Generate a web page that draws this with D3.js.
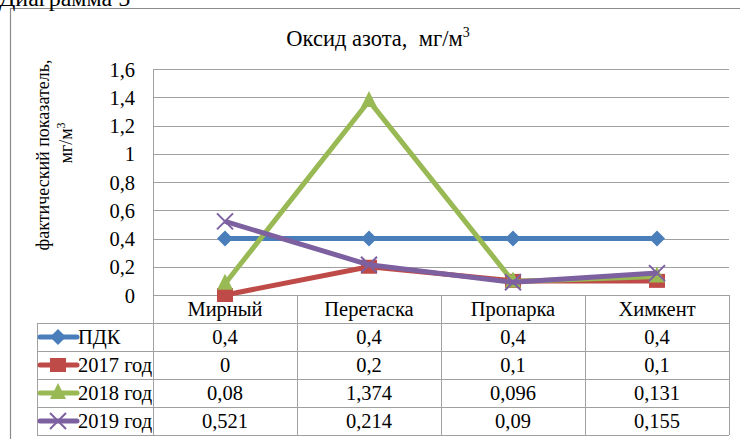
<!DOCTYPE html>
<html><head><meta charset="utf-8">
<script src="https://cdn.jsdelivr.net/npm/d3@7"></script>
<style>body{margin:0;background:#fff}svg{display:block}</style>
</head><body>
<svg id="c" width="740" height="439"></svg>
<script>
const categories = ["Мирный","Перетаска","Пропарка","Химкент"];
const seriesNames = ["ПДК","2017 год","2018 год","2019 год"];
const pdk = [0.4,0.4,0.4,0.4];
const y2017 = [0,0.2,0.1,0.1];
const y2018 = [0.08,1.374,0.096,0.131];
const y2019 = [0.521,0.214,0.09,0.155];
const tableLabels = [
  ["0,4","0,4","0,4","0,4"],
  ["0","0,2","0,1","0,1"],
  ["0,08","1,374","0,096","0,131"],
  ["0,521","0,214","0,09","0,155"]
];
const yTicks = [0,0.2,0.4,0.6,0.8,1,1.2,1.4,1.6];
const colors = ["#4A7EBB","#BE4B48","#98B954","#7D60A0"];
const markers = ["diamond","square","triangle","x"];
const series = [pdk,y2017,y2018,y2019];

const svg = d3.select("#c");
const font = "'Liberation Serif','Times New Roman',serif";
const fs = 20.5;
const L=153,R=729,T=69,B=295;
const x = d3.scaleBand().domain(categories).range([L,R]);
const y = d3.scaleLinear().domain([0,1.6]).range([B,T]);

// outer frame
svg.append("path").attr("d",`M10.5,439 V8.5 H740`).attr("fill","none").attr("stroke","#8c8c8c").attr("stroke-width",1.2);
// caption cut off at top
svg.append("text").attr("x",-1).attr("y",6).attr("font-family",font).attr("font-size",24).attr("fill","#000").text("Диаграмма 5");

// title
const tt = svg.append("text").attr("x",378).attr("y",46).attr("text-anchor","middle").attr("font-family",font).attr("font-size",22.5).attr("fill","#000").style("white-space","pre");
tt.append("tspan").text("Оксид азота,  мг/м");
tt.append("tspan").attr("font-size",14).attr("dy",-9).text("3");

// y axis title
const yt = svg.append("g");
yt.append("text").attr("transform","translate(49,155) rotate(-90)").attr("text-anchor","middle").attr("font-family",font).attr("font-size",18).text("фактический показатель,");
const yt2 = yt.append("text").attr("transform","translate(72,143) rotate(-90)").attr("text-anchor","middle").attr("font-family",font).attr("font-size",18);
yt2.append("tspan").text("мг/м");
yt2.append("tspan").attr("font-size",12).attr("dy",-7).text("3");

// gridlines
const grid = "#a0a0a0";
svg.append("g").selectAll("line").data(yTicks).join("line")
  .attr("x1",L).attr("x2",R).attr("y1",d=>Math.round(y(d))+0.5).attr("y2",d=>Math.round(y(d))+0.5)
  .attr("stroke",grid).attr("stroke-width",1);
svg.append("line").attr("x1",L+0.5).attr("x2",L+0.5).attr("y1",T).attr("y2",B).attr("stroke",grid);

// y tick labels via axis
const ya = svg.append("g").attr("transform",`translate(${L},0)`).call(d3.axisLeft(y).tickValues(yTicks).tickSize(0).tickPadding(18).tickFormat(d=>String(d).replace(".",",")));
ya.select(".domain").remove();
ya.selectAll("text").attr("font-family",font).attr("font-size",fs).attr("fill","#000").attr("dy","0.35em");

// table
const rowH=28;
const hdrTop=B, hdrBot=B+rowH;
const tbl = svg.append("g");
const tableBottom = hdrBot + rowH*4;
const xs = categories.map(c=>x(c)).concat([R]);
xs.forEach(xx=>{
  tbl.append("line").attr("x1",Math.round(xx)+0.5).attr("x2",Math.round(xx)+0.5).attr("y1",hdrTop).attr("y2",tableBottom).attr("stroke",grid);
});
tbl.append("line").attr("x1",37.5).attr("x2",37.5).attr("y1",hdrBot).attr("y2",tableBottom).attr("stroke",grid);
for(let i=0;i<=4;i++){
  const yy = hdrBot + i*rowH;
  tbl.append("line").attr("x1",37).attr("x2",R).attr("y1",yy+0.5).attr("y2",yy+0.5).attr("stroke",grid);
}
tbl.selectAll("text.h").data(categories).join("text").attr("class","h")
  .attr("x",d=>x(d)+x.bandwidth()/2).attr("y",hdrTop+21).attr("text-anchor","middle")
  .attr("font-family",font).attr("font-size",fs).text(d=>d);
tableLabels.forEach((row,i)=>{
  tbl.selectAll("text.v"+i).data(row).join("text").attr("class","v"+i)
    .attr("x",(d,j)=>x(categories[j])+x.bandwidth()/2).attr("y",hdrBot+i*rowH+21).attr("text-anchor","middle")
    .attr("font-family",font).attr("font-size",fs).text(d=>d);
});

function marker(g,type,cx,cy,color){
  if(type==="diamond"){
    g.append("path").attr("d",`M${cx},${cy-8}L${cx+8},${cy}L${cx},${cy+8}L${cx-8},${cy}Z`).attr("fill",color);
  } else if(type==="square"){
    g.append("rect").attr("x",cx-8).attr("y",cy-7).attr("width",16).attr("height",14).attr("fill",color);
  } else if(type==="triangle"){
    g.append("path").attr("d",`M${cx},${cy-10}L${cx+8},${cy+6}L${cx-8},${cy+6}Z`).attr("fill",color);
  } else {
    g.append("path").attr("d",`M${cx-8},${cy-8}L${cx+8},${cy+8}M${cx-8},${cy+8}L${cx+8},${cy-8}`).attr("stroke",color).attr("stroke-width",2);
  }
}

series.forEach((s,i)=>{
  const cy = hdrBot + i*rowH + rowH/2;
  const g = tbl.append("g");
  g.append("line").attr("x1",40).attr("x2",77).attr("y1",cy).attr("y2",cy).attr("stroke",colors[i]).attr("stroke-width",5).attr("stroke-linecap","round");
  marker(g,markers[i],58,cy,colors[i]);
  g.append("text").attr("x",78).attr("y",cy+7).attr("font-family",font).attr("font-size",fs).text(seriesNames[i]);
});

const line = d3.line().x((d,i)=>x(categories[i])+x.bandwidth()/2).y(d=>y(d));
series.forEach((s,i)=>{
  const g = svg.append("g");
  g.append("path").attr("d",line(s)).attr("fill","none").attr("stroke",colors[i]).attr("stroke-width",5).attr("stroke-linejoin","round");
  s.forEach((v,j)=>marker(g,markers[i],x(categories[j])+x.bandwidth()/2,y(v),colors[i]));
});
</script>
</body></html>
